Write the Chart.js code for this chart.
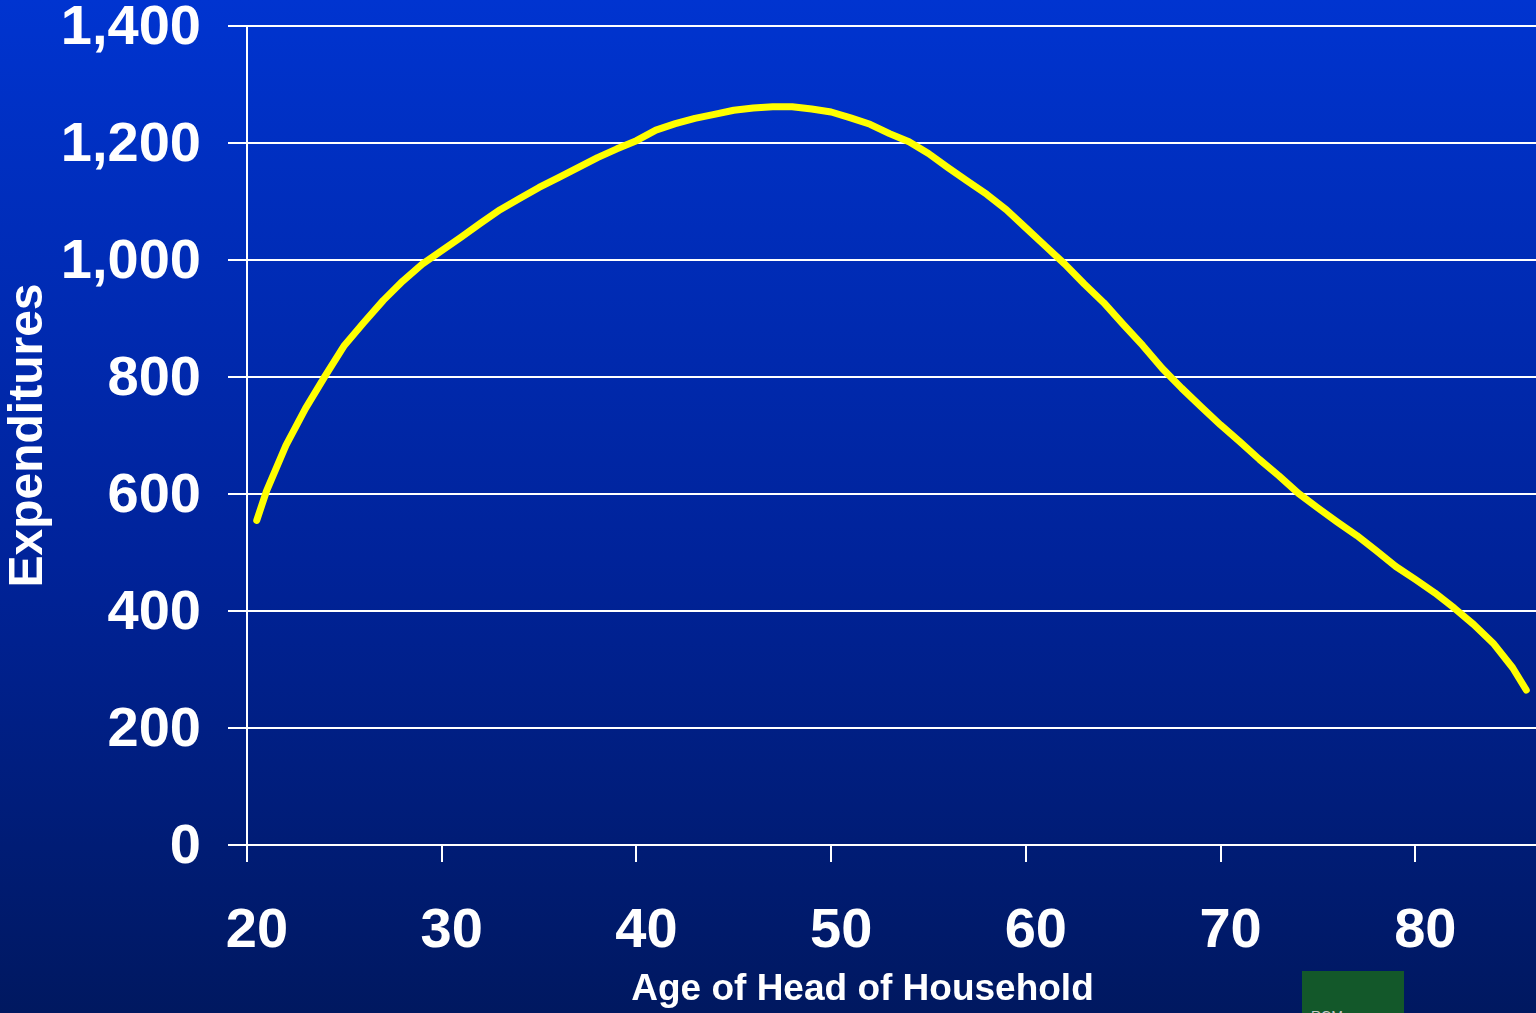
<!DOCTYPE html>
<html>
<head>
<meta charset="utf-8">
<script src="https://cdn.jsdelivr.net/npm/chart.js@4/dist/chart.umd.min.js"></script>
<style>
    html, body {
        margin: 0;
        padding: 0;
        overflow: hidden;
    }
    #wrap {
        position: relative;
        width: 1536px;
        height: 1013px;
        background: linear-gradient(to bottom, #0034d0 0%, #00239a 55%, #001860 100%);
    }
    #logo {
        position: absolute;
        left: 1302px;
        top: 971px;
        width: 102px;
        height: 42px;
        background: #13582a;
        overflow: hidden;
    }
    #logo span {
        position: absolute;
        left: 9px;
        top: 37px;
        color: #c8c8c8;
        font: 14px "Liberation Sans", Arial, sans-serif;
    }
</style>
</head>
<body>
<div id="wrap">
    <canvas id="myLine"></canvas>
    <div id="logo"><span>RCM</span></div>
</div>
<script>
// ages and spending
const ages = [20.5, 21, 22, 23, 24, 25, 26, 27, 28, 29, 30, 31, 32, 33, 34, 35, 36, 37, 38, 39,
    40, 41, 42, 43, 44, 45, 46, 47, 48, 49, 50, 51, 52, 53, 54, 55, 56, 57, 58, 59,
    60, 61, 62, 63, 64, 65, 66, 67, 68, 69, 70, 71, 72, 73, 74, 75, 76, 77, 78, 79,
    80, 81, 82, 83, 84, 85, 85.7];
const expenditures = [555, 605, 683, 746, 801, 854, 893, 931, 964, 993, 1016, 1039, 1063, 1086, 1105, 1124, 1141, 1158, 1175, 1190,
    1204, 1222, 1233, 1242, 1249, 1256, 1260, 1262, 1262, 1258, 1253, 1243, 1232, 1216, 1202, 1182, 1158, 1135, 1112, 1086,
    1055, 1024, 993, 959, 927, 890, 854, 815, 781, 749, 718, 689, 659, 631, 601, 576, 552, 529, 503, 476,
    454, 431, 405, 377, 345, 303, 265];
const xTickValues = [20, 30, 40, 50, 60, 70, 80];
const yTickValues = [0, 200, 400, 600, 800, 1000, 1200, 1400];

const font = '"Liberation Sans", Arial, sans-serif';

// x title sits a bit left of the plot centre in the original
const xTitlePlugin = {
    id: 'xTitle',
    afterDraw(chart) {
        const ctx = chart.ctx;
        const area = chart.chartArea;
        ctx.save();
        ctx.fillStyle = '#ffffff';
        ctx.font = 'bold 37px ' + font;
        ctx.textAlign = 'center';
        ctx.textBaseline = 'middle';
        ctx.fillText('Age of Head of Household', (area.left + area.right) / 2 - 29, 990);
        ctx.restore();
    }
};

const lineData = {
    datasets: [{
        data: ages.map((a, i) => ({ x: a, y: expenditures[i] })),
        borderColor: '#ffff00',
        borderWidth: 7,
        borderCapStyle: 'round',
        borderJoinStyle: 'round',
        pointRadius: 0,
        tension: 0,
        fill: false
    }]
};

const lineConfig = {
    type: 'line',
    data: lineData,
    plugins: [xTitlePlugin],
    options: {
        responsive: true,
        maintainAspectRatio: false,
        animation: false,
        layout: {
            padding: { top: 26, left: 0, right: 0, bottom: 0 }
        },
        plugins: {
            legend: { display: false },
            tooltip: { enabled: false }
        },
        scales: {
            x: {
                type: 'linear',
                min: 20,
                max: 86.2,
                afterBuildTicks: (scale) => {
                    scale.ticks = xTickValues.map(v => ({ value: v }));
                },
                afterFit: (scale) => { scale.height = 168; },
                ticks: {
                    color: '#ffffff',
                    font: { size: 56, weight: 'bold', family: font, lineHeight: 1 },
                    padding: 42,
                    labelOffset: 10,
                    maxRotation: 0,
                    autoSkip: false
                },
                grid: {
                    drawOnChartArea: false,
                    drawTicks: true,
                    tickLength: 17,
                    color: '#ffffff',
                    lineWidth: 2
                },
                border: { display: true, color: '#ffffff', width: 2 }
            },
            y: {
                min: 0,
                max: 1400,
                afterBuildTicks: (scale) => {
                    scale.ticks = yTickValues.map(v => ({ value: v }));
                },
                afterFit: (scale) => {
                    scale.width = 247;
                    scale.paddingTop = 0;
                    scale.paddingBottom = 0;
                },
                ticks: {
                    color: '#ffffff',
                    font: { size: 56, weight: 'bold', family: font, lineHeight: 0.9 },
                    padding: 27,
                    labelOffset: 3,
                    callback: (v) => v.toLocaleString('en-US')
                },
                grid: {
                    color: '#ffffff',
                    lineWidth: 2,
                    drawTicks: true,
                    tickLength: 19
                },
                border: { display: true, color: '#ffffff', width: 2 },
                title: {
                    display: true,
                    text: 'Expenditures',
                    color: '#ffffff',
                    font: { size: 48, weight: 'bold', family: font, lineHeight: 1.2 },
                    padding: 0
                }
            }
        }
    }
};

var myLine = new Chart(
    document.getElementById('myLine'),
    lineConfig
);
</script>
</body>
</html>
